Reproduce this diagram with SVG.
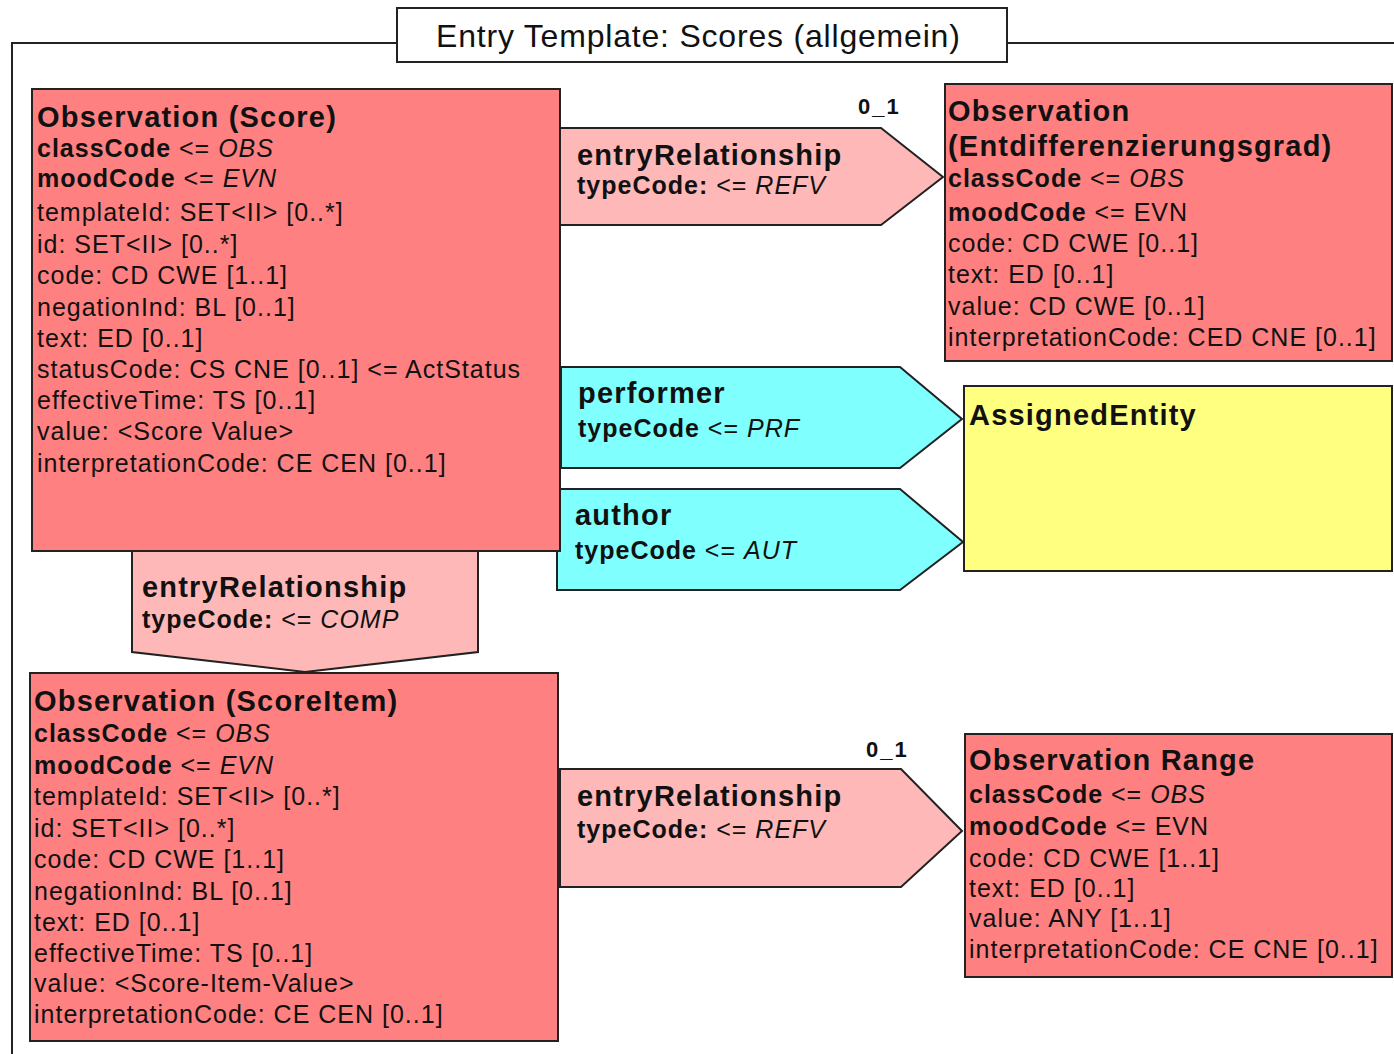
<svg xmlns="http://www.w3.org/2000/svg" width="1394" height="1054" viewBox="0 0 1394 1054">
<style>
text{font-family:"Liberation Sans",Arial,sans-serif;fill:#111}
.ttl{font-size:32px;letter-spacing:0.8px}
.h{font-size:29px;font-weight:bold;letter-spacing:1.2px}
.a{font-size:25px;letter-spacing:1px}
.bd{font-weight:bold}
.it{font-style:italic}
.card{font-size:22px;font-weight:bold;letter-spacing:2px}
.box{stroke:#222;stroke-width:2}
.obs{fill:#FF8080}
.rel{fill:#FFB8B8}
.par{fill:#80FFFF}
.ent{fill:#FFFF80}
.frame{fill:none;stroke:#222;stroke-width:2}
</style>

<g id="frame">
<path class="frame" d="M12,1054 V43 H397 M1007,43 H1394"/>
<rect x="397" y="8" width="610" height="54" fill="#fff" stroke="#222" stroke-width="2"/>
<text class="ttl" x="436" y="47">Entry Template: Scores (allgemein)</text>
</g>

<g id="connectors">
<g id="rel-refv-top">
<polygon class="box rel" points="560,128 881,128 943,177 881,225 560,225"/>
<text class="h" x="577" y="165">entryRelationship</text>
<text class="a" x="577" y="194"><tspan class="bd">typeCode:</tspan> &lt;= <tspan class="it">REFV</tspan></text>
<text class="card" x="858" y="114">0_1</text>
</g>
<g id="rel-performer">
<polygon class="box par" points="561,367 900,367 962,419 900,468 561,468"/>
<text class="h" x="578" y="403">performer</text>
<text class="a" x="578" y="437"><tspan class="bd">typeCode</tspan> &lt;= <tspan class="it">PRF</tspan></text>
</g>
<g id="rel-author">
<polygon class="box par" points="557,489 900,489 963,542 900,590 557,590"/>
<text class="h" x="575" y="525">author</text>
<text class="a" x="575" y="559"><tspan class="bd">typeCode</tspan> &lt;= <tspan class="it">AUT</tspan></text>
</g>
<g id="rel-comp">
<polygon class="box rel" points="132,551 478,551 478,652 305,672 132,652"/>
<text class="h" x="142" y="597">entryRelationship</text>
<text class="a" x="142" y="628"><tspan class="bd">typeCode:</tspan> &lt;= <tspan class="it">COMP</tspan></text>
</g>
<g id="rel-refv-bottom">
<polygon class="box rel" points="560,769 901,769 962,831 901,887 560,887"/>
<text class="h" x="577" y="806">entryRelationship</text>
<text class="a" x="577" y="838"><tspan class="bd">typeCode:</tspan> &lt;= <tspan class="it">REFV</tspan></text>
<text class="card" x="866" y="757">0_1</text>
</g>
</g>

<g id="obs-score">
<rect class="box obs" x="32" y="89" width="528" height="462"/>
<text class="h" x="37" y="127">Observation (Score)</text>
<text class="a" x="37" y="157"><tspan class="bd">classCode</tspan> &lt;= <tspan class="it">OBS</tspan></text>
<text class="a" x="37" y="187"><tspan class="bd">moodCode</tspan> &lt;= <tspan class="it">EVN</tspan></text>
<text class="a" x="37" y="221">templateId: SET&lt;II&gt; [0..*]</text>
<text class="a" x="37" y="253">id: SET&lt;II&gt; [0..*]</text>
<text class="a" x="37" y="284">code: CD CWE [1..1]</text>
<text class="a" x="37" y="316">negationInd: BL [0..1]</text>
<text class="a" x="37" y="347">text: ED [0..1]</text>
<text class="a" x="37" y="378">statusCode: CS CNE [0..1] &lt;= ActStatus</text>
<text class="a" x="37" y="409">effectiveTime: TS [0..1]</text>
<text class="a" x="37" y="440">value: &lt;Score Value&gt;</text>
<text class="a" x="37" y="472">interpretationCode: CE CEN [0..1]</text>
</g>

<g id="obs-entdiff">
<rect class="box obs" x="945" y="84" width="447" height="277"/>
<text class="h" x="948" y="121">Observation</text>
<text class="h" x="948" y="156">(Entdifferenzierungsgrad)</text>
<text class="a" x="948" y="187"><tspan class="bd">classCode</tspan> &lt;= <tspan class="it">OBS</tspan></text>
<text class="a" x="948" y="221"><tspan class="bd">moodCode</tspan> &lt;= EVN</text>
<text class="a" x="948" y="252">code: CD CWE [0..1]</text>
<text class="a" x="948" y="283">text: ED [0..1]</text>
<text class="a" x="948" y="315">value: CD CWE [0..1]</text>
<text class="a" x="948" y="346">interpretationCode: CED CNE [0..1]</text>
</g>

<g id="assigned-entity">
<rect class="box ent" x="964" y="386" width="428" height="185"/>
<text class="h" x="969" y="425">AssignedEntity</text>
</g>

<g id="obs-scoreitem">
<rect class="box obs" x="30" y="673" width="528" height="368"/>
<text class="h" x="34" y="711">Observation (ScoreItem)</text>
<text class="a" x="34" y="742"><tspan class="bd">classCode</tspan> &lt;= <tspan class="it">OBS</tspan></text>
<text class="a" x="34" y="774"><tspan class="bd">moodCode</tspan> &lt;= <tspan class="it">EVN</tspan></text>
<text class="a" x="34" y="805">templateId: SET&lt;II&gt; [0..*]</text>
<text class="a" x="34" y="837">id: SET&lt;II&gt; [0..*]</text>
<text class="a" x="34" y="868">code: CD CWE [1..1]</text>
<text class="a" x="34" y="900">negationInd: BL [0..1]</text>
<text class="a" x="34" y="931">text: ED [0..1]</text>
<text class="a" x="34" y="962">effectiveTime: TS [0..1]</text>
<text class="a" x="34" y="992">value: &lt;Score-Item-Value&gt;</text>
<text class="a" x="34" y="1023">interpretationCode: CE CEN [0..1]</text>
</g>

<g id="obs-range">
<rect class="box obs" x="965" y="734" width="427" height="243"/>
<text class="h" x="969" y="770">Observation Range</text>
<text class="a" x="969" y="803"><tspan class="bd">classCode</tspan> &lt;= <tspan class="it">OBS</tspan></text>
<text class="a" x="969" y="835"><tspan class="bd">moodCode</tspan> &lt;= EVN</text>
<text class="a" x="969" y="867">code: CD CWE [1..1]</text>
<text class="a" x="969" y="897">text: ED [0..1]</text>
<text class="a" x="969" y="927">value: ANY [1..1]</text>
<text class="a" x="969" y="958">interpretationCode: CE CNE [0..1]</text>
</g>
</svg>
